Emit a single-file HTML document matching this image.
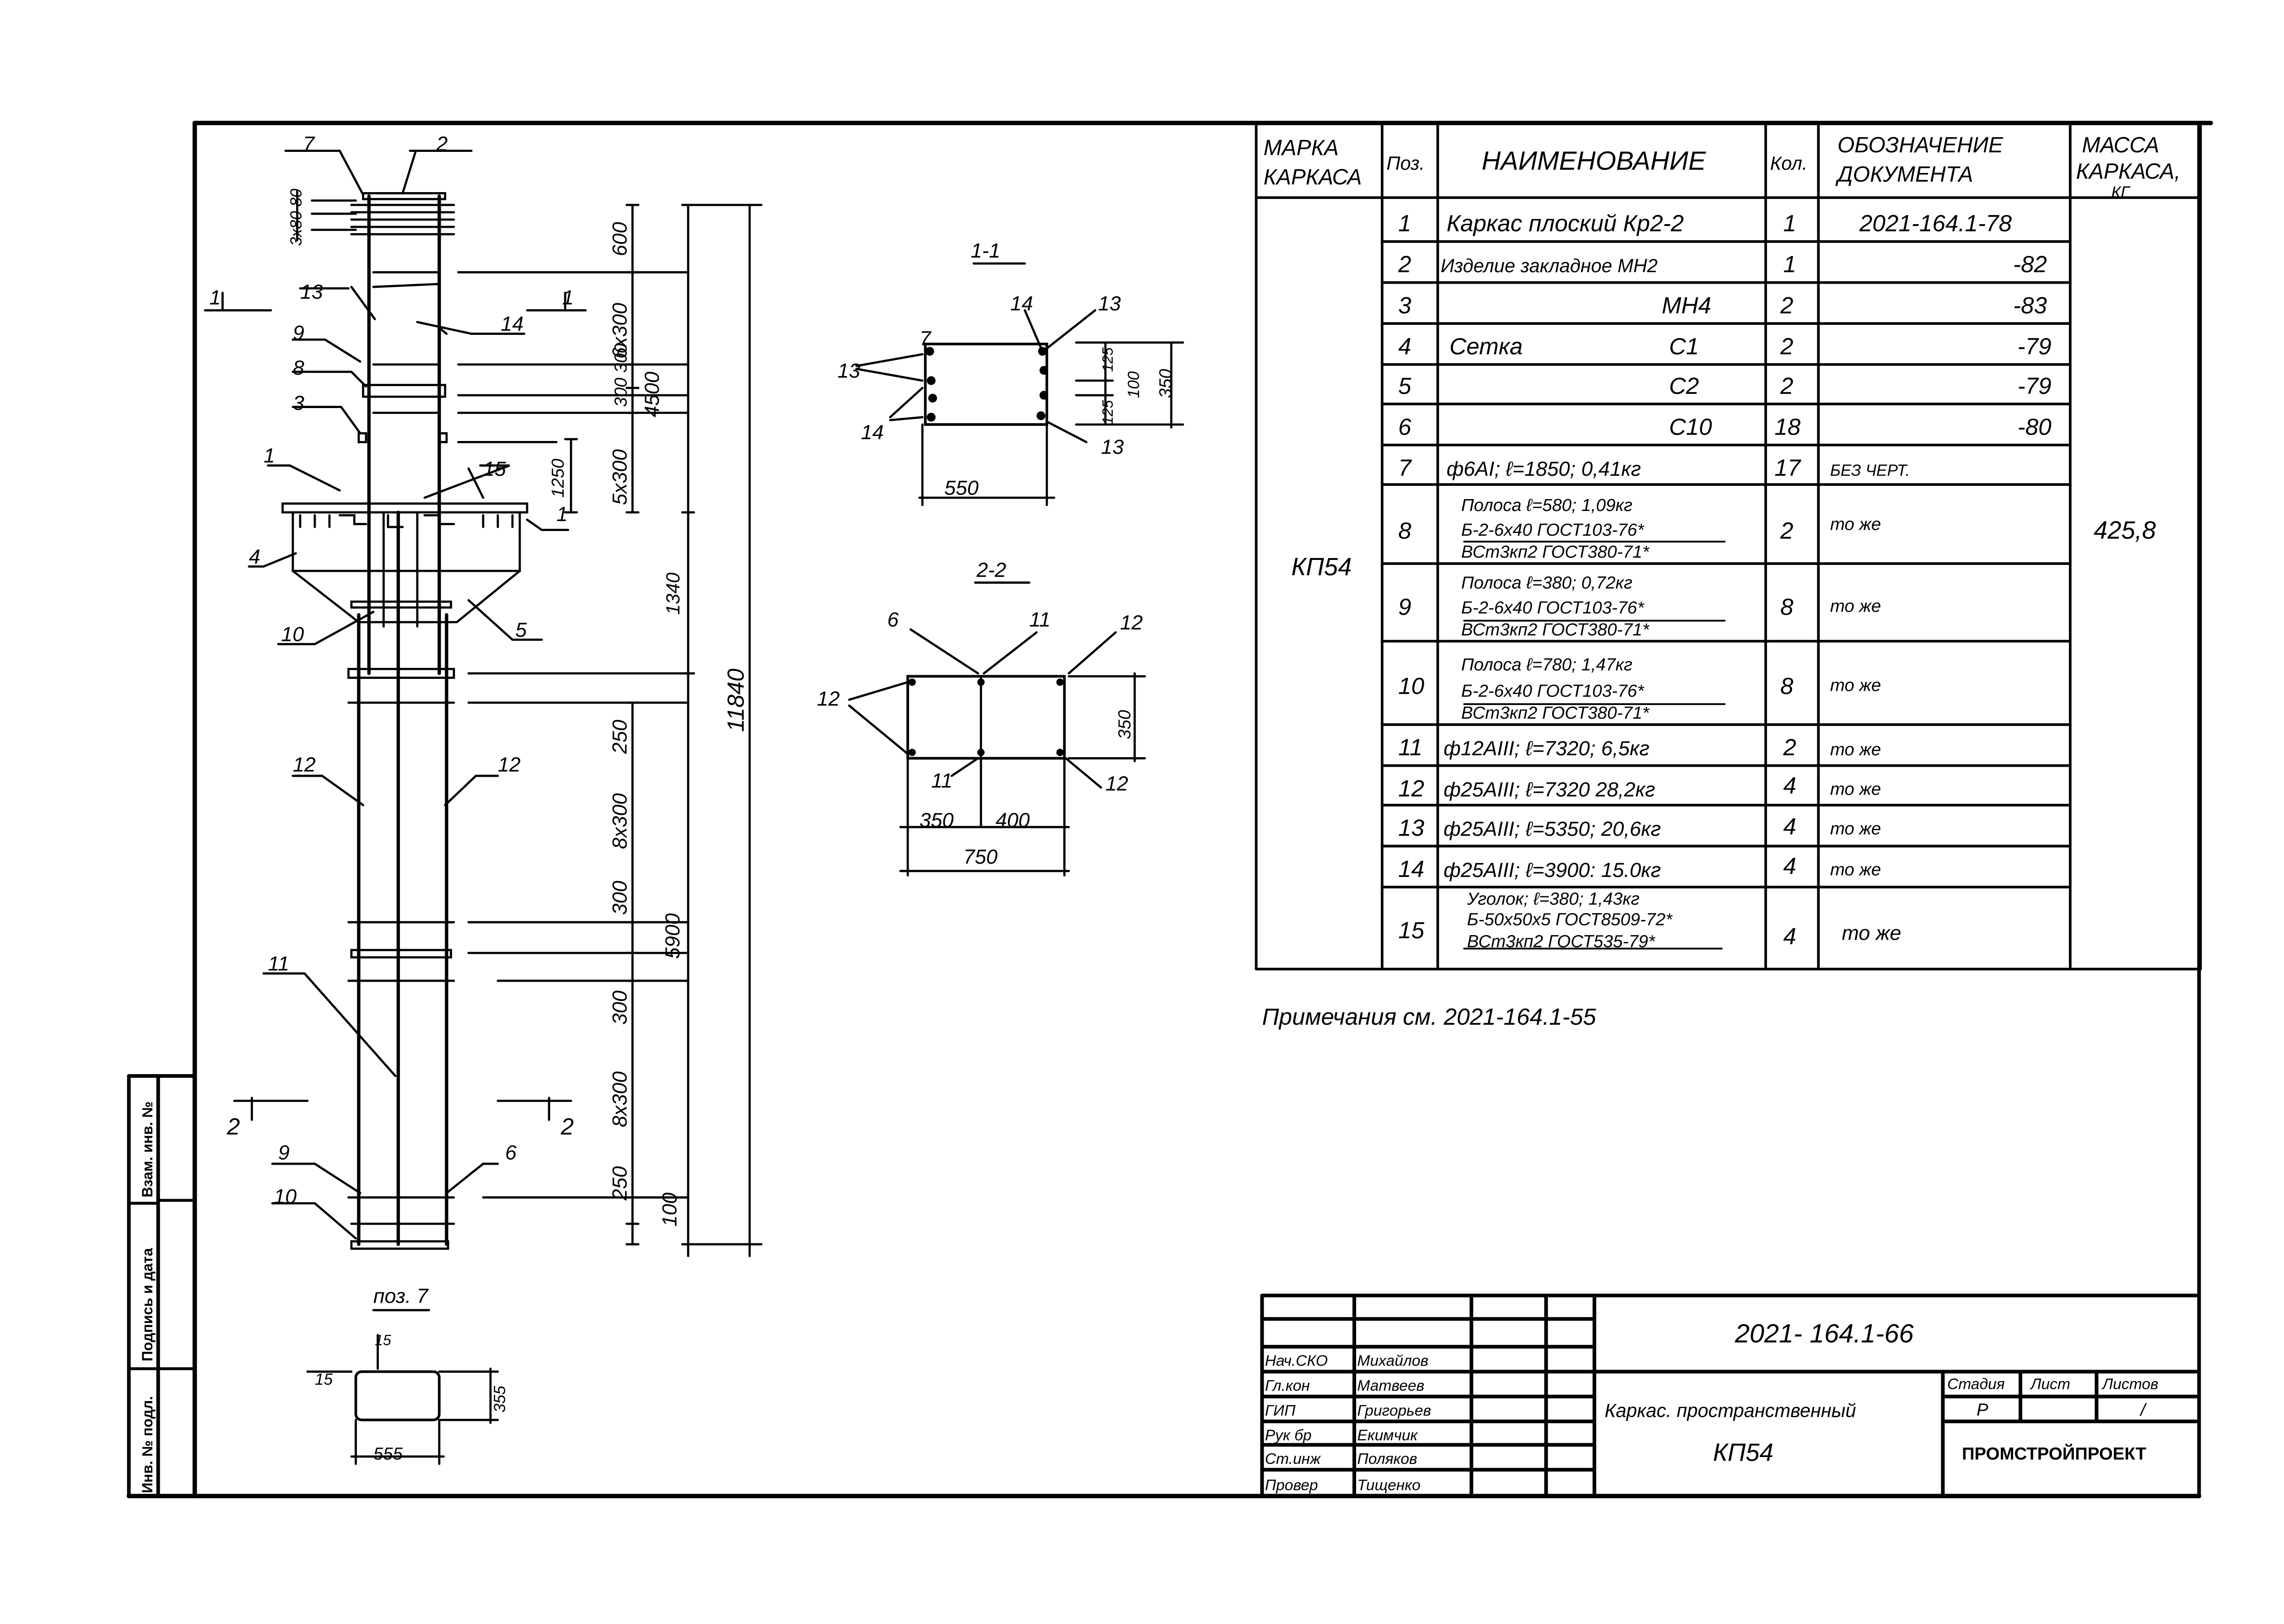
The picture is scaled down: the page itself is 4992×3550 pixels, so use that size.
<!DOCTYPE html>
<html><head><meta charset="utf-8"><style>
html,body{margin:0;padding:0;background:#fff;}
svg{display:block;}
text{font-family:"Liberation Sans","DejaVu Sans",sans-serif;font-style:italic;fill:#000;}
</style></head><body>
<svg width="4992" height="3550" viewBox="0 0 1560 1109.4" xmlns="http://www.w3.org/2000/svg">
<g stroke="#000" fill="none" stroke-linecap="round">
<path d="M133 84 H1510" stroke-width="3"/>
<path d="M133 84 V1022" stroke-width="3"/>
<path d="M1502 84 V1022" stroke-width="2.5"/>
<path d="M88 1022 H1502" stroke-width="3"/>
<path d="M88 735 H133 M88 735 V1022 M108 735 V1022" stroke-width="2.5"/>
<path d="M108 820 H133 M88 822 H108 M88 935 H133" stroke-width="2"/>
<g stroke-width="1.8">
<path d="M858 84 V662 M944 84 V662 M982 84 V662 M1206 84 V662 M1242 84 V662 M1414 84 V662 M1503 84 V662"/>
<path d="M858 135 H1503 M858 662 H1503"/>
<path d="M944 165 H1414 M944 193 H1414 M944 221 H1414 M944 249 H1414 M944 276 H1414 M944 304 H1414 M944 331 H1414 M944 385 H1414 M944 438 H1414 M944 495 H1414 M944 523 H1414 M944 550 H1414 M944 578 H1414 M944 606 H1414"/>
<path d="M1000 370 H1178 M1000 424 H1178 M1000 481 H1178 M1000 648 H1176" stroke-width="1.2"/>
</g>
<g stroke-width="2.5">
<path d="M862 885 H1500 M862 885 V1022 M925 885 V1022 M1005 885 V1022 M1056 885 V1022 M1089 885 V1022"/>
<path d="M862 901 H1089 M862 920 H1089 M862 937 H1500 M862 954 H1089 M862 971 H1089 M862 987 H1089 M862 1004 H1089"/>
<path d="M1327 937 V1022 M1380 937 V971 M1432 937 V971 M1327 954 H1500 M1327 971 H1500"/>
</g>
<g stroke-width="1.5">
<path d="M252 134 V460 M300 134 V460" stroke-width="2.3"/>
<rect x="248" y="132" width="56" height="4"/>
<path d="M240 140 H310 M240 145 H310 M240 150 H310 M240 155 H310 M240 160 H310"/>
<path d="M213 137 H243 M213 146 H243 M213 157 H243 M203 130 V164"/>
<path d="M255 186 H300 M313 186 H470 M255 249 H300 M313 249 H470 M313 270 H470 M255 282 H300 M313 282 H470"/>
<rect x="248" y="263" width="56" height="8"/>
<rect x="245" y="296" width="5" height="6"/><rect x="300" y="296" width="5" height="6"/>
<path d="M313 302 H380"/>
<rect x="193" y="344" width="167" height="6"/>
<path d="M200 350 V390 H355 V350 M200 390 L245 425 H312 L355 390"/>
<path d="M205 352 V360 M215 352 V360 M225 352 V360 M330 352 V360 M340 352 V360 M350 352 V360"/>
<path d="M232 352 h10 v6 h8 M265 352 v8 h10 M290 352 h10 v6 h10"/>
<rect x="240" y="411" width="68" height="4"/>
<path d="M262 350 V428 M285 350 V428"/>
<path d="M245 420 V850 M272 350 V850 M305 420 V850" stroke-width="2.3"/>
<rect x="238" y="457" width="72" height="6"/>
<path d="M238 480 H310 M238 630 H310 M238 670 H310 M238 818 H310 M320 460 H470 M320 480 H470 M320 630 H470 M320 651 H470 M340 670 H470 M330 818 H470 M240 836 H310"/>
<rect x="240" y="649" width="68" height="5"/>
<rect x="240" y="848" width="66" height="5"/>
<path d="M432 140 V350 M432 480 V850 M470 140 V858 M512 140 V858 M390 300 V350"/>
<path d="M428 140 H436 M428 186 H436 M428 249 H436 M428 265 H436 M428 282 H436 M428 350 H436 M428 480 H436 M428 630 H436 M428 651 H436 M428 670 H436 M428 818 H436 M428 836 H436 M428 850 H436 M466 140 H520 M466 350 H474 M466 460 H474 M466 850 H520 M386 300 H394 M386 350 H394"/>
<path d="M140 212 H185 M152 200 V212 M360 212 H400 M386 200 V212"/>
<path d="M160 752 H210 M172 750 V765 M340 752 H390 M375 750 V765"/>
<path d="M195 103 H232 L248 133 M280 103 H322 M284 103 L275 132 M205 197 H238 M240 196 L256 218 M255 196 L300 194 M305 228 L300 224 M285 220 L322 228 H358 M200 232 H222 L246 247 M200 254 H240 L250 264 M200 278 H233 L246 296 M183 318 H198 L232 335 M328 318 H348 L290 340 M320 320 L330 340 M360 355 L370 362 H388 M170 387 H180 L202 378 M190 440 H215 L255 418 M370 437 H350 L320 410 M200 530 H220 L248 550 M340 530 H325 L304 550 M180 665 H208 L270 735 M186 795 H215 L246 815 M340 795 H330 L305 815 M186 822 H215 L243 846"/>
<rect x="632" y="235" width="83" height="55" stroke-width="1.8"/>
<path d="M630 290 V345 M715 290 V345 M628 340 H720 M735 234 H808 M735 290 H808 M800 234 V292 M735 260 H760 M735 270 H760 M755 234 V290 M665 180 H700 M585 250 L630 242 M585 252 L630 260 M608 285 L630 265 M608 287 L630 285 M700 212 L712 240 M748 212 L715 238 M742 302 L715 288"/>
<rect x="620" y="462" width="107" height="56" stroke-width="1.8"/>
<path d="M670 462 V518 M620 518 V598 M670 518 V565 M727 518 V598 M615 565 H730 M615 595 H730 M730 462 H782 M730 518 H782 M775 460 V520 M666 398 H703 M580 478 L620 466 M580 482 L620 515 M622 430 L668 460 M708 432 L672 460 M762 432 L730 460 M752 538 L728 518 M650 530 L668 518"/>
<rect x="243" y="937" width="57" height="33" rx="4" stroke-width="1.8"/>
<path d="M243 970 V1000 M300 970 V1000 M240 995 H303 M300 937 H340 M300 970 H340 M335 935 V972 M240 937 H210 M258 912 V935 M255 895 H293"/>
</g>
<g fill="#000" stroke="none">
<circle cx="635" cy="240" r="3"/><circle cx="636" cy="260" r="3"/><circle cx="637" cy="272" r="3"/><circle cx="636" cy="285" r="3"/>
<circle cx="712" cy="240" r="3"/><circle cx="713" cy="253" r="3"/><circle cx="713" cy="270" r="3"/><circle cx="711" cy="284" r="3"/>
<circle cx="623" cy="466" r="2.5"/><circle cx="623" cy="514" r="2.5"/><circle cx="670" cy="466" r="2.5"/><circle cx="670" cy="514" r="2.5"/><circle cx="724" cy="466" r="2.5"/><circle cx="724" cy="514" r="2.5"/>
</g>
</g>

<g font-size="15">
<text x="863" y="106">МАРКА</text><text x="863" y="126">КАРКАСА</text>
<text x="947" y="116" font-size="13">Поз.</text>
<text x="1012" y="116" font-size="18">НАИМЕНОВАНИЕ</text>
<text x="1209" y="116" font-size="13">Кол.</text>
<text x="1255" y="104">ОБОЗНАЧЕНИЕ</text><text x="1255" y="124">ДОКУМЕНТА</text>
<text x="1422" y="104">МАССА</text><text x="1418" y="122">КАРКАСА,</text><text x="1442" y="135" font-size="11">КГ</text>
<text x="882" y="393" font-size="17">КП54</text>
<text x="1430" y="368" font-size="17">425,8</text>
</g>
<g font-size="16">
<text x="955" y="158">1</text><text x="988" y="158">Каркас плоский  Кр2-2</text><text x="1218" y="158">1</text><text x="1270" y="158">2021-164.1-78</text>
<text x="955" y="186">2</text><text x="984" y="186" font-size="13">Изделие закладное МН2</text><text x="1218" y="186">1</text><text x="1375" y="186">-82</text>
<text x="955" y="214">3</text><text x="1135" y="214">МН4</text><text x="1216" y="214">2</text><text x="1375" y="214">-83</text>
<text x="955" y="242">4</text><text x="990" y="242">Сетка</text><text x="1140" y="242">С1</text><text x="1216" y="242">2</text><text x="1378" y="242">-79</text>
<text x="955" y="269">5</text><text x="1140" y="269">С2</text><text x="1216" y="269">2</text><text x="1378" y="269">-79</text>
<text x="955" y="297">6</text><text x="1140" y="297">С10</text><text x="1212" y="297">18</text><text x="1378" y="297">-80</text>
<text x="955" y="325">7</text><text x="988" y="325" font-size="14">ф6АI; ℓ=1850; 0,41кг</text><text x="1212" y="325">17</text><text x="1250" y="325" font-size="11">БЕЗ ЧЕРТ.</text>
<text x="955" y="368">8</text><text x="1216" y="368">2</text><text x="1250" y="362" font-size="12">то же</text>
<text x="955" y="420">9</text><text x="1216" y="420">8</text><text x="1250" y="418" font-size="12">то же</text>
<text x="955" y="474">10</text><text x="1216" y="474">8</text><text x="1250" y="472" font-size="12">то же</text>
<text x="955" y="516">11</text><text x="986" y="516" font-size="14">ф12АIII; ℓ=7320; 6,5кг</text><text x="1218" y="516">2</text><text x="1250" y="516" font-size="12">то же</text>
<text x="955" y="544">12</text><text x="986" y="544" font-size="14">ф25АIII; ℓ=7320  28,2кг</text><text x="1218" y="542">4</text><text x="1250" y="543" font-size="12">то же</text>
<text x="955" y="571">13</text><text x="986" y="571" font-size="14">ф25АIII; ℓ=5350;  20,6кг</text><text x="1218" y="570">4</text><text x="1250" y="570" font-size="12">то же</text>
<text x="955" y="599">14</text><text x="986" y="599" font-size="14">ф25АIII; ℓ=3900:  15.0кг</text><text x="1218" y="597">4</text><text x="1250" y="598" font-size="12">то же</text>
<text x="955" y="641">15</text><text x="1218" y="645">4</text><text x="1258" y="642" font-size="14">то же</text>
</g>
<g font-size="12">
<text x="998" y="349">Полоса ℓ=580; 1,09кг</text><text x="998" y="366">Б-2-6х40 ГОСТ103-76*</text><text x="998" y="381">ВСт3кп2 ГОСТ380-71*</text>
<text x="998" y="402">Полоса ℓ=380; 0,72кг</text><text x="998" y="419">Б-2-6х40 ГОСТ103-76*</text><text x="998" y="434">ВСт3кп2 ГОСТ380-71*</text>
<text x="998" y="458">Полоса ℓ=780; 1,47кг</text><text x="998" y="476">Б-2-6х40 ГОСТ103-76*</text><text x="998" y="491">ВСт3кп2 ГОСТ380-71*</text>
<text x="1002" y="618">Уголок; ℓ=380; 1,43кг</text><text x="1002" y="632">Б-50х50х5 ГОСТ8509-72*</text><text x="1002" y="647">ВСт3кп2 ГОСТ535-79*</text>
</g>
<text x="862" y="700" font-size="16">Примечания  см. 2021-164.1-55</text>

<text x="1185" y="917" font-size="18">2021- 164.1-66</text>
<g font-size="10.5">
<text x="864" y="933">Нач.СКО</text><text x="927" y="933">Михайлов</text>
<text x="864" y="950">Гл.кон</text><text x="927" y="950">Матвеев</text>
<text x="864" y="967">ГИП</text><text x="927" y="967">Григорьев</text>
<text x="864" y="984">Рук бр</text><text x="927" y="984">Екимчик</text>
<text x="864" y="1000">Ст.инж</text><text x="927" y="1000">Поляков</text>
<text x="864" y="1018">Провер</text><text x="927" y="1018">Тищенко</text>
<text x="1330" y="949">Стадия</text><text x="1387" y="949">Лист</text><text x="1436" y="949">Листов</text>
</g>
<text x="1350" y="967" font-size="12">Р</text><text x="1462" y="967" font-size="12">/</text>
<text x="1096" y="968" font-size="13">Каркас. пространственный</text>
<text x="1170" y="998" font-size="17">КП54</text>
<text x="1340" y="997" font-size="12" style="font-style:normal;font-weight:bold">ПРОМСТРОЙПРОЕКТ</text>
<text transform="translate(104,1020) rotate(-90)" font-size="10" style="font-style:normal;font-weight:bold">Инв. № подл.</text>
<text transform="translate(104,930) rotate(-90)" font-size="10" style="font-style:normal;font-weight:bold">Подпись и дата</text>
<text transform="translate(104,818) rotate(-90)" font-size="10" style="font-style:normal;font-weight:bold">Взам. инв. №</text>

<g font-size="14">
<text x="207" y="103">7</text><text x="298" y="103">2</text>
<text transform="translate(206,168) rotate(-90)" font-size="11">3х80 80</text>
<text x="143" y="208">1</text><text x="384" y="208">1</text>
<text x="205" y="204">13</text><text x="342" y="226">14</text>
<text x="200" y="232">9</text><text x="200" y="256">8</text><text x="200" y="280">3</text>
<text x="180" y="316">1</text><text x="330" y="325">15</text><text x="380" y="356">1</text>
<text x="170" y="385">4</text><text x="192" y="438">10</text><text x="352" y="435">5</text>
<text x="200" y="527">12</text><text x="340" y="527">12</text>
<text x="183" y="663">11</text>
<text x="155" y="775" font-size="16">2</text><text x="383" y="775" font-size="16">2</text>
<text x="190" y="792">9</text><text x="345" y="792">6</text><text x="187" y="822">10</text>
<text x="255" y="890">поз. 7</text>
<text x="256" y="919" font-size="10">15</text><text x="215" y="946" font-size="11">15</text>
<text x="255" y="997" font-size="12">555</text>
<text transform="translate(345,965) rotate(-90)" font-size="11">355</text>
</g>
<g font-size="14">
<text transform="translate(428,175) rotate(-90)">600</text>
<text transform="translate(428,245) rotate(-90)">6х300</text>
<text transform="translate(428,278) rotate(-90)" font-size="12">300 300</text>
<text transform="translate(450,285) rotate(-90)">4500</text>
<text transform="translate(428,345) rotate(-90)">5х300</text>
<text transform="translate(385,340) rotate(-90)" font-size="12">1250</text>
<text transform="translate(464,420) rotate(-90)" font-size="13">1340</text>
<text transform="translate(428,515) rotate(-90)">250</text>
<text transform="translate(428,580) rotate(-90)">8х300</text>
<text transform="translate(428,625) rotate(-90)">300</text>
<text transform="translate(464,655) rotate(-90)">5900</text>
<text transform="translate(428,700) rotate(-90)">300</text>
<text transform="translate(428,770) rotate(-90)">8х300</text>
<text transform="translate(428,820) rotate(-90)">250</text>
<text transform="translate(462,838) rotate(-90)">100</text>
<text transform="translate(508,500) rotate(-90)" font-size="16">11840</text>
</g>
<g font-size="14">
<text x="663" y="176">1-1</text>
<text x="628" y="236">7</text><text x="690" y="212">14</text><text x="750" y="212">13</text>
<text x="572" y="258">13</text><text x="588" y="300">14</text><text x="752" y="310">13</text>
<text x="645" y="338">550</text>
<text transform="translate(760,254) rotate(-90)" font-size="10">125</text>
<text transform="translate(778,272) rotate(-90)" font-size="11">100</text>
<text transform="translate(760,290) rotate(-90)" font-size="10">125</text>
<text transform="translate(800,272) rotate(-90)" font-size="12">350</text>
<text x="667" y="394">2-2</text>
<text x="606" y="428">6</text><text x="703" y="428">11</text><text x="765" y="430">12</text>
<text x="558" y="482">12</text><text x="636" y="538">11</text><text x="755" y="540">12</text>
<text transform="translate(772,505) rotate(-90)" font-size="12">350</text>
<text x="628" y="565">350</text><text x="680" y="565">400</text><text x="658" y="590">750</text>
</g>
</svg>
</body></html>
